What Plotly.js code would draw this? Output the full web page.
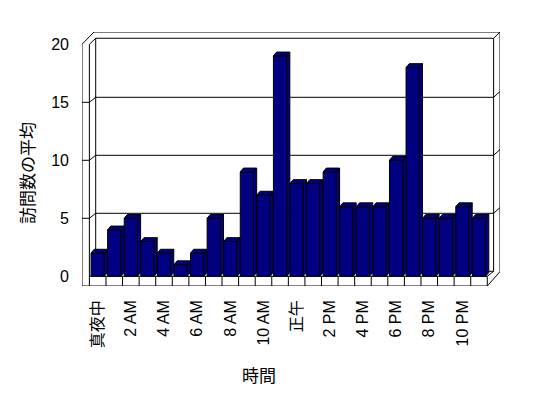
<!DOCTYPE html>
<html>
<head>
<meta charset="utf-8">
<script src="https://cdn.plot.ly/plotly-3.0.1.min.js"></script>
<style>html,body{margin:0;padding:0;background:#fff;}#chart{width:548px;height:398px;}</style>
</head>
<body>
<div id="chart"></div>
<script>
// ---- data ----
var hours = [0,1,2,3,4,5,6,7,8,9,10,11,12,13,14,15,16,17,18,19,20,21,22,23];
var visits = [2,4,5,3,2,1,2,5,3,9,7,19,8,8,9,6,6,6,10,18,5,5,6,5];
var tickHours = [0,2,4,6,8,10,12,14,16,18,20,22];
var tickLabels = ["真夜中","2 AM","4 AM","6 AM","8 AM","10 AM","正午","2 PM","4 PM","6 PM","8 PM","10 PM"];
var yTicks = [0,5,10,15,20];
var xTitle = "時間";
var yTitle = "訪問数の平均";

// ---- 3D look parameters (data-unit offsets) ----
var FONT = '"Liberation Sans", "Noto Sans CJK JP", sans-serif';
var NAVY = '#000080';
var BW = 0.8;        // bar width
var BDX = 0.19, BDY = 0.33;   // bar depth offset
var XL = -0.5, XR = 23.5;     // category edges (front)
var WX = 0.446;      // left wall thickness
var FY = 0.836;      // floor thickness
var DX = 0.38, DY = 0.43;     // back wall offset
var XMIN = XL - WX, XMAX = 24.266, YMIN = -FY, YMAX = 21.06;

// side and top faces of bars
var sx = [], sy = [], tx = [], ty = [];
hours.forEach(function(h, i){
  var v = visits[i], l = h - BW/2, r = h + BW/2;
  sx.push(r, r, r+BDX, r+BDX, r, null);
  sy.push(0, v, v+BDY, BDY, 0, null);
  tx.push(l, r, r+BDX, l+BDX, l, null);
  ty.push(v, v, v+BDY, v+BDY, v, null);
});

var traces = [
  {type:'bar', x:hours, y:visits, width:BW,
   marker:{color:NAVY, line:{color:'#000', width:1}}, hoverinfo:'skip'},
  {type:'scatter', mode:'lines', x:sx, y:sy, fill:'toself', fillcolor:NAVY,
   line:{color:'#000', width:1}, hoverinfo:'skip'},
  {type:'scatter', mode:'lines', x:tx, y:ty, fill:'toself', fillcolor:NAVY,
   line:{color:'#000', width:1}, hoverinfo:'skip'}
];

var ln = {color:'#000', width:1};
function seg(x0,y0,x1,y1){ return {type:'line', xref:'x', yref:'y', x0:x0,y0:y0,x1:x1,y1:y1, line:ln, layer:'below'}; }
var shapes = [];
// outer frame
shapes.push({type:'path', xref:'x', yref:'y', layer:'below', line:ln,
  path:'M'+XMIN+','+YMIN+' L'+XMIN+',20 L-0.223,'+YMAX+' L'+XMAX+','+YMAX+' L'+XMAX+',0.4 L'+XR+','+YMIN+' Z'});
// left wall inner edge, back wall inner top and right edge
shapes.push(seg(XL, YMIN, XL, 20));
shapes.push(seg(XL, 20, XL+DX, 20+DY+0.09));
shapes.push(seg(XL+DX, 20+DY+0.09, XR+DX, 20+DY+0.09));
shapes.push(seg(XR+DX, 20+DY+0.09, XMAX, YMAX));
shapes.push(seg(XR+DX, 20+DY+0.09, XR+DX, DY));
shapes.push(seg(XL+DX, 20+DY+0.09, XL+DX, DY));
// floor
shapes.push(seg(XL, 0, XR, 0));
shapes.push(seg(XL+DX, DY, XR+DX, DY));
shapes.push(seg(XR, 0, XR+DX, DY));
for (var k = 1; k <= 24; k++) shapes.push(seg(XL+k, 0, XL+k, YMIN));
// gridlines
[5,10,15].forEach(function(v){
  shapes.push(seg(XMIN, v, XL, v));
  shapes.push(seg(XL, v, XL+DX, v+DY));
  shapes.push(seg(XL+DX, v+DY, XR+DX, v+DY));
  shapes.push(seg(XR+DX, v+DY, XMAX, v+DY+0.5));
});

var layout = {
  width:548, height:398,
  margin:{l:82, r:48, t:32, b:112, pad:0},
  paper_bgcolor:'#fff', plot_bgcolor:'#fff',
  showlegend:false,
  font:{family:FONT, size:16, color:'#000'},
  bargap:0.2,
  xaxis:{range:[XMIN, XMAX], tickvals:tickHours, ticktext:tickLabels, tickangle:-90,
         showgrid:false, zeroline:false, showline:false, ticks:'', ticklabelstandoff:10,
         tickfont:{family:FONT, size:16, color:'#000'}, fixedrange:true},
  yaxis:{range:[YMIN, YMAX], tickvals:yTicks, showgrid:false, zeroline:false, showline:false,
         ticks:'', ticklabelstandoff:12, tickfont:{family:FONT, size:16, color:'#000'}, fixedrange:true},
  shapes:shapes,
  annotations:[
    {text:xTitle, xref:'paper', yref:'paper', x:(259-82)/418, y:(398-376-112)/254,
     xanchor:'center', yanchor:'middle', showarrow:false, font:{family:FONT, size:17, color:'#000'}},
    {text:yTitle, xref:'paper', yref:'paper', x:(28-82)/418, y:(398-173-112)/254,
     xanchor:'center', yanchor:'middle', textangle:-90, showarrow:false, font:{family:FONT, size:17, color:'#000'}}
  ]
};
Plotly.newPlot('chart', traces, layout, {staticPlot:true, displayModeBar:false});
</script>
</body>
</html>
